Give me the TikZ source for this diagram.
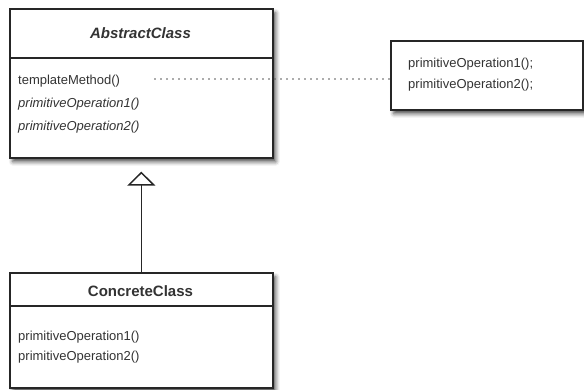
\documentclass[tikz,border=0pt]{standalone}
\usepackage{fontspec}
\setmainfont{Liberation Sans}
\usetikzlibrary{shadows.blur,arrows.meta}
\definecolor{ink}{HTML}{262626}
\definecolor{txt}{HTML}{333333}
\tikzset{
  umlbox/.style={draw=ink, line width=1.6pt, fill=white, anchor=north west, inner sep=0pt,
    blur shadow={shadow xshift=3pt, shadow yshift=-4pt, shadow blur radius=4pt, shadow opacity=70}},
  divider/.style={draw=ink, line width=1.2pt},
  title/.style={font=\fontsize{15}{18}\selectfont\bfseries, text=txt, inner sep=0pt},
  op/.style={font=\fontsize{13}{15}\selectfont, text=txt, anchor=base west, inner sep=0pt},
  inherit/.style={draw=ink, line width=1.5pt, -{Triangle[open, length=14pt, width=28pt, line width=1.5pt]}},
  dots/.style={draw=gray!70!black, line width=1.6pt, line cap=round, dash pattern=on 0pt off 6pt}
}
\begin{document}
\begin{tikzpicture}[x=1pt,y=-1pt]
\useasboundingbox (0,0) rectangle (584,389);
% abstract class
\node[umlbox, minimum width=263pt, minimum height=149pt] (abs) at (9,8) {};
\draw[divider] (9,58) -- (272,58);
\node[title, font=\fontsize{15}{18}\selectfont\bfseries\itshape] (abstitle) at (140.5,33) {AbstractClass};
\node[op] (tm) at (18,84) {templateMethod()};
\node[op, font=\fontsize{13}{15}\selectfont\itshape] (aop1) at (18,107) {primitiveOperation1()};
\node[op, font=\fontsize{13}{15}\selectfont\itshape] (aop2) at (18,130) {primitiveOperation2()};
% note
\node[umlbox, minimum width=192pt, minimum height=69pt] (note) at (390,40) {};
\node[op] (nop1) at (408,67) {primitiveOperation1();};
\node[op] (nop2) at (408,88) {primitiveOperation2();};
% concrete class
\node[umlbox, minimum width=263pt, minimum height=115pt] (con) at (9,272) {};
\draw[divider] (9,306) -- (272,306);
\node[title] (contitle) at (140.5,291) {ConcreteClass};
\node[op] (cop1) at (18,340) {primitiveOperation1()};
\node[op] (cop2) at (18,360) {primitiveOperation2()};
% connectors
\coordinate (dstart) at (155,79);
\draw[dots] (dstart) -- (dstart -| note.west);
\draw[inherit, shorten >=13pt] (con.north) -- (abs.south);
\end{tikzpicture}
\end{document}
